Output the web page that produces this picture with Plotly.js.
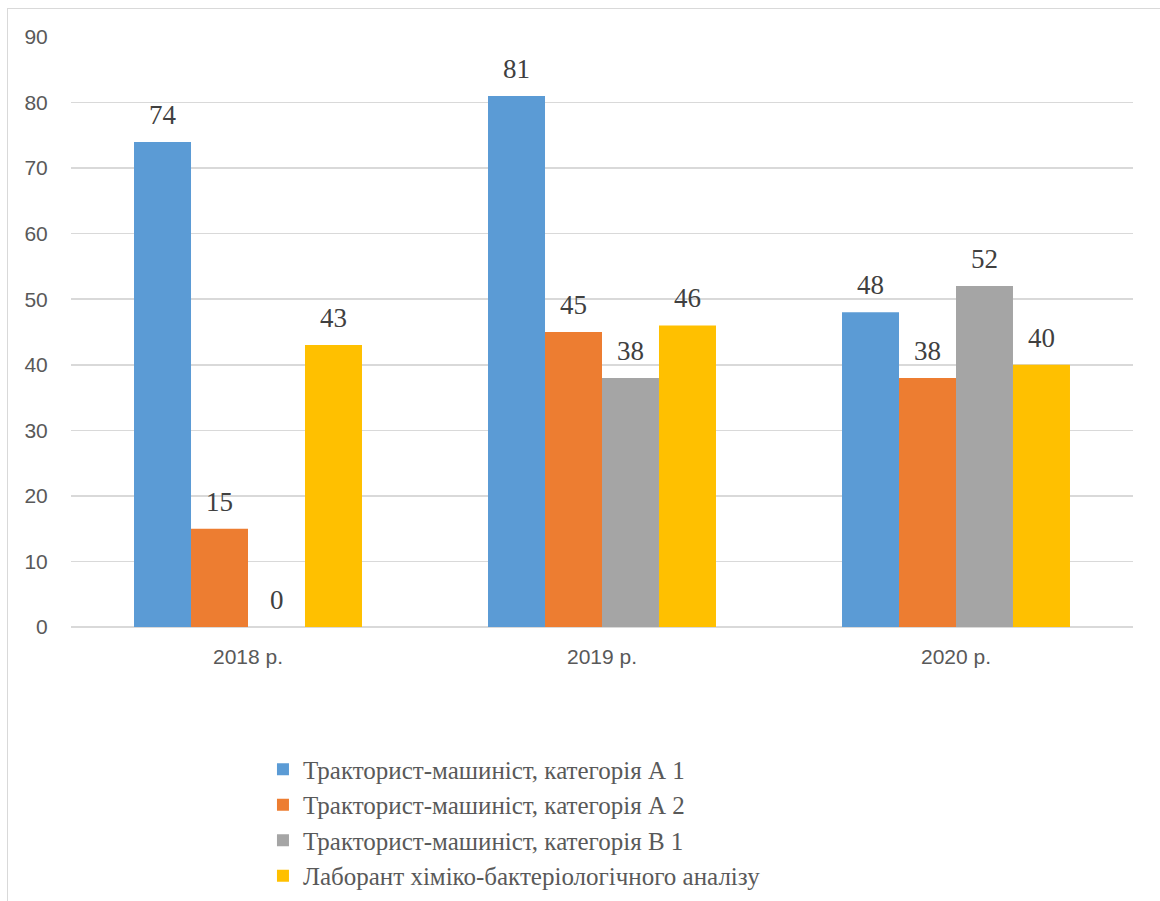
<!DOCTYPE html>
<html>
<head>
<meta charset="utf-8">
<script src="https://cdn.plot.ly/plotly-3.0.1.min.js"></script>
<style>
html,body{margin:0;padding:0;background:#fff;overflow:hidden;}
#chart{width:1160px;height:901px;position:absolute;left:0;top:0;}
#frame{position:absolute;left:7px;top:8px;width:2000px;height:2000px;border-left:1px solid #d9d9d9;border-top:1px solid #d9d9d9;pointer-events:none;}
</style>
</head>
<body>
<div id="chart"></div>
<div id="frame"></div>
<script>
const categories = ['2018 р.', '2019 р.', '2020 р.'];
const seriesNames = [
  'Тракторист-машиніст, категорія А 1',
  'Тракторист-машиніст, категорія А 2',
  'Тракторист-машиніст, категорія В 1',
  'Лаборант хіміко-бактеріологічного аналізу'
];
const valuesA1 = [74, 81, 48];
const valuesA2 = [15, 45, 38];
const valuesB1 = [0, 38, 52];
const valuesLab = [43, 46, 40];
const colors = ['#5B9BD5', '#ED7D31', '#A5A5A5', '#FFC000'];

const allValues = [valuesA1, valuesA2, valuesB1, valuesLab];
const bargap = 0.356;

const traces = allValues.map((vals, i) => ({
  type: 'bar',
  name: seriesNames[i],
  x: categories,
  y: vals,
  marker: {color: colors[i]},
  hoverinfo: 'none'
}));

// data labels above bars, placed in data coordinates
const annotations = [];
const n = allValues.length;
const w = (1 - bargap) / n;
allValues.forEach((vals, i) => {
  vals.forEach((v, j) => {
    annotations.push({
      x: j + (i - (n - 1) / 2) * w,
      y: v,
      xref: 'x', yref: 'y',
      text: String(v),
      showarrow: false,
      yanchor: 'middle',
      yshift: 27,
      font: {family: 'Liberation Serif, Times New Roman, serif', size: 27, color: '#404040'}
    });
  });
});

const layout = {
  width: 1160,
  height: 901,
  autosize: false,
  paper_bgcolor: '#ffffff',
  plot_bgcolor: '#ffffff',
  margin: {l: 71, r: 27, t: 37, b: 274, pad: 0, autoexpand: false},
  barmode: 'group',
  bargap: bargap,
  bargroupgap: 0,
  showlegend: true,
  legend: {
    orientation: 'v',
    xref: 'container', yref: 'container',
    x: 0.2267, xanchor: 'left',
    y: 0.1715, yanchor: 'top',
    font: {family: 'Liberation Serif, Times New Roman, serif', size: 25, color: '#595959'},
    bgcolor: 'rgba(0,0,0,0)',
    tracegroupgap: 0
  },
  xaxis: {
    type: 'category',
    showgrid: false,
    zeroline: false,
    showline: false,
    ticks: 'outside',
    ticklen: 11,
    tickcolor: 'rgba(0,0,0,0)',
    tickfont: {family: 'Liberation Sans, Arial, sans-serif', size: 21, color: '#595959'}
  },
  yaxis: {
    range: [0, 90],
    dtick: 10,
    showgrid: true,
    gridcolor: '#d9d9d9',
    gridwidth: 1.5,
    zeroline: true,
    zerolinecolor: '#d9d9d9',
    zerolinewidth: 1.5,
    showline: false,
    ticks: 'outside',
    ticklen: 18,
    tickcolor: 'rgba(0,0,0,0)',
    tickfont: {family: 'Liberation Sans, Arial, sans-serif', size: 21, color: '#595959'}
  },
  annotations: annotations
};

Plotly.newPlot('chart', traces, layout, {displayModeBar: false, staticPlot: true});
</script>
</body>
</html>
